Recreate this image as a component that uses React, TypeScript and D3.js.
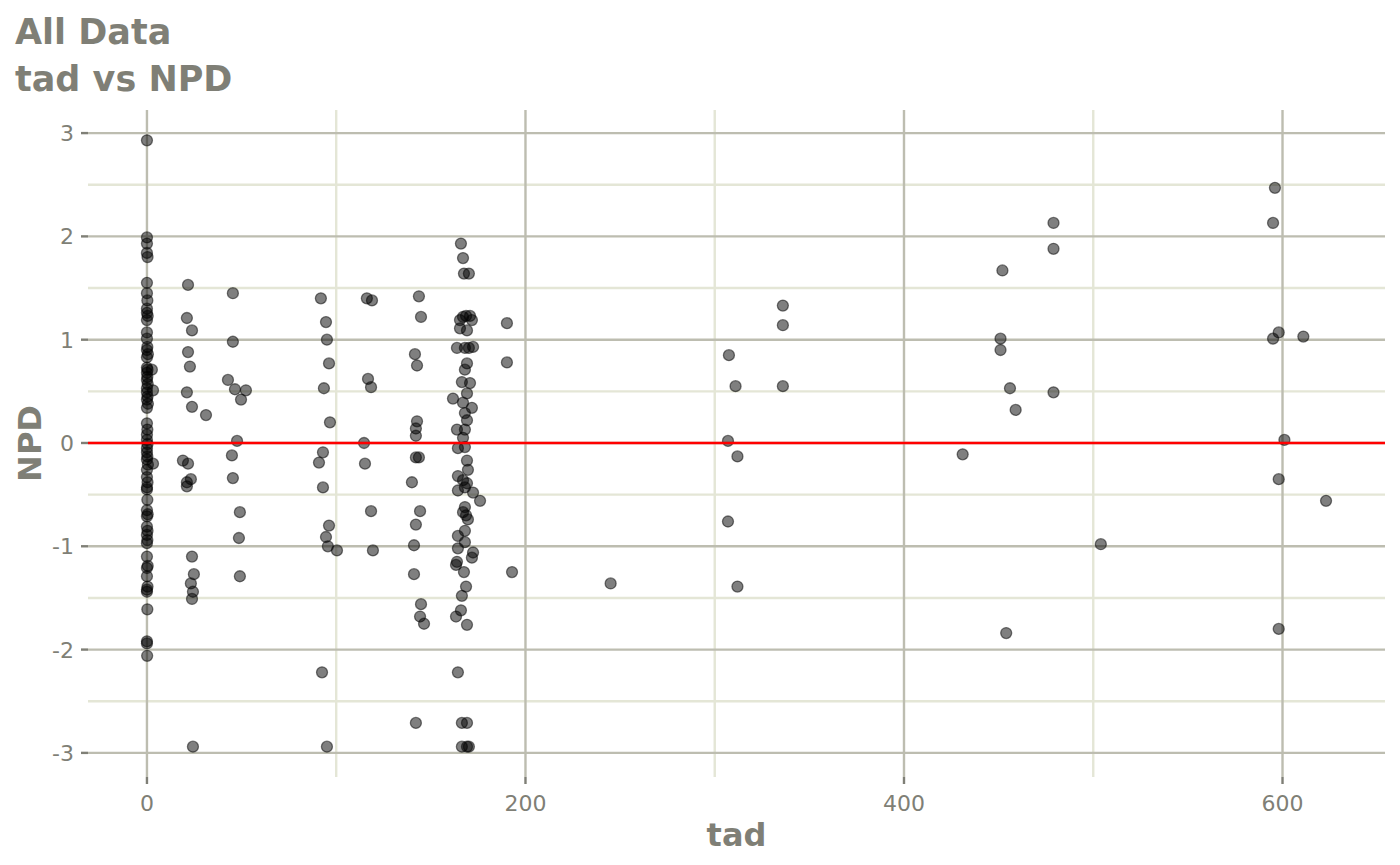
import * as d3 from 'd3'

// NPD residuals against time after dose, grouped by dosing interval
const tad0 = [
  0, 0, 0, 0, 0.3, 0, 0, 0.2, 0, 0, 0.4, 0, 0, 0, 0.2, 0, 0.5, 0, 0, 0.3, 0, 0.2, 0, 0.4, 0, 0, 0.3, 0, 0.5, 0, 0, 0.2,
  0, 0, 0.3, 0, 0, 0.2, 0, 0.5, 0, 0, 0.3, 0, 0, 0.2, 0, 0.4, 0, 0, 0.3, 0, 0.2, 0, 0, 0.4, 0, 0, 0.3, 0, 0, 0.2, 0, 0,
  0.1, 2.6, 3.2, 3.2,
]
const npd0 = [
  2.93, 1.99, 1.93, 1.84, 1.8, 1.55, 1.45, 1.38, 1.3, 1.26, 1.23, 1.19, 1.07, 1.01, 0.93, 0.9, 0.86, 0.83, 0.73, 0.71,
  0.68, 0.64, 0.61, 0.57, 0.53, 0.49, 0.45, 0.42, 0.38, 0.34, 0.19, 0.13, 0.08, 0.03, -0.01, -0.05, -0.09, -0.13, -0.16,
  -0.21, -0.26, -0.33, -0.38, -0.43, -0.45, -0.55, -0.65, -0.69, -0.71, -0.81, -0.85, -0.89, -0.94, -0.97, -1.1, -1.19,
  -1.21, -1.29, -1.39, -1.42, -1.44, -1.61, -1.92, -1.94, -2.06, 0.71, 0.51, -0.2,
]

const tad24 = [21.7, 21.1, 23.8, 21.7, 22.7, 21.1, 23.8, 31.2, 19.0, 21.7, 21.1, 23.2, 21.1, 23.8, 24.8, 23.2, 24.3, 23.8, 24.3, 45.4, 45.4, 42.8, 46.5, 52.3, 49.7, 47.6, 44.9, 45.4, 49.1, 48.6, 49.1]
const npd24 = [1.53, 1.21, 1.09, 0.88, 0.74, 0.49, 0.35, 0.27, -0.17, -0.2, -0.38, -0.35, -0.42, -1.1, -1.27, -1.36, -1.44, -1.51, -2.94, 1.45, 0.98, 0.61, 0.52, 0.51, 0.42, 0.02, -0.12, -0.34, -0.67, -0.92, -1.29]

const tad96 = [91.9, 94.6, 95.1, 96.2, 93.5, 96.7, 93.0, 90.9, 93.0, 96.2, 94.6, 95.6, 100.4, 92.5, 95.1, 116.2, 118.9, 116.8, 118.4, 114.7, 115.2, 118.4, 119.4]
const npd96 = [1.4, 1.17, 1.0, 0.77, 0.53, 0.2, -0.09, -0.19, -0.43, -0.8, -0.91, -1.0, -1.04, -2.22, -2.94, 1.4, 1.38, 0.62, 0.54, 0.0, -0.2, -0.66, -1.04]

const tad144 = [143.7, 144.8, 141.6, 142.7, 142.7, 142.1, 142.1, 142.1, 143.7, 140.0, 144.3, 142.1, 141.1, 141.1, 144.8, 144.3, 146.4, 142.1]
const npd144 = [1.42, 1.22, 0.86, 0.75, 0.21, 0.14, 0.07, -0.14, -0.14, -0.38, -0.66, -0.79, -0.99, -1.27, -1.56, -1.68, -1.75, -2.71]

const tad168 = [165.9, 167.0, 167.5, 170.1, 167.0, 165.4, 168.6, 170.7, 171.7, 165.4, 169.1, 163.8, 168.0, 170.1, 172.3, 169.1, 168.0, 166.4, 170.7, 169.1, 161.7, 167.0, 171.7, 168.0, 169.1, 163.8, 168.0, 167.0, 164.3, 168.0, 169.1, 169.6, 164.3, 167.0, 169.1, 168.0, 164.3, 172.3, 176.0, 168.0, 167.0, 168.6, 169.6, 168.0, 164.3, 168.0, 164.3, 172.3, 171.7, 163.8, 163.3, 167.5, 168.6, 166.4, 165.9, 163.3, 169.1, 164.3, 166.4, 169.1, 166.4, 169.1, 170.1, 190.2, 190.2, 192.9]
const npd168 = [1.93, 1.79, 1.64, 1.64, 1.22, 1.19, 1.23, 1.23, 1.19, 1.11, 1.09, 0.92, 0.92, 0.92, 0.93, 0.77, 0.71, 0.59, 0.58, 0.48, 0.43, 0.39, 0.34, 0.29, 0.22, 0.13, 0.13, 0.05, -0.05, -0.04, -0.17, -0.26, -0.32, -0.36, -0.39, -0.43, -0.46, -0.48, -0.56, -0.62, -0.67, -0.7, -0.74, -0.85, -0.9, -0.96, -1.02, -1.06, -1.11, -1.15, -1.18, -1.25, -1.39, -1.48, -1.62, -1.68, -1.76, -2.22, -2.71, -2.71, -2.94, -2.94, -2.94, 1.16, 0.78, -1.25]

const tadLate = [245, 307.5, 311, 307, 312, 307, 312, 336, 336, 336, 431, 452, 451, 451, 456, 459, 454, 479, 479, 479, 504, 596, 595, 595, 598, 611, 601, 598, 623, 598]
const npdLate = [-1.36, 0.85, 0.55, 0.02, -0.13, -0.76, -1.39, 1.33, 1.14, 0.55, -0.11, 1.67, 1.01, 0.9, 0.53, 0.32, -1.84, 2.13, 1.88, 0.49, -0.98, 2.47, 2.13, 1.01, 1.07, 1.03, 0.03, -0.35, -0.56, -1.8]

const xTicks = [0, 200, 400, 600]
const xMinor = [100, 300, 500]
const yTicks = [-3, -2, -1, 0, 1, 2, 3]
const yMinor = [-2.5, -1.5, -0.5, 0.5, 1.5, 2.5]

const groups = [
  [tad0, npd0],
  [tad24, npd24],
  [tad96, npd96],
  [tad144, npd144],
  [tad168, npd168],
  [tadLate, npdLate],
]

const points = groups.flatMap(([t, n]) => t.map((v, i) => ({ tad: v, npd: n[i] })))

export default function App() {
  const width = 1400
  const height = 865
  const left = 88
  const right = 1385
  const top = 110
  const bottom = 777

  const tadExt = d3.extent(points, (d) => d.tad) as [number, number]
  const npdExt = d3.extent(points, (d) => d.npd) as [number, number]
  const xPad = (tadExt[1] - tadExt[0]) * 0.05
  const yPad = (npdExt[1] - npdExt[0]) * 0.05

  const x = d3.scaleLinear().domain([tadExt[0] - xPad, tadExt[1] + xPad]).range([left, right])
  const y = d3.scaleLinear().domain([npdExt[0] - yPad, npdExt[1] + yPad]).range([bottom, top])

  const gray = '#7f7f76'
  const major = '#bdbdb0'
  const minor = '#e4e6d6'
  const font = 'DejaVu Sans, sans-serif'

  return (
    <svg
      width={width}
      height={height}
      style={{ position: 'absolute', left: 0, top: 0, background: '#fff' }}
      fontFamily={font}
    >
      {/* minor grid */}
      {yMinor.map((v) => (
        <line key={'ym' + v} x1={left} x2={right} y1={y(v)} y2={y(v)} stroke={minor} strokeWidth={2.4} />
      ))}
      {xMinor.map((v) => (
        <line key={'xm' + v} x1={x(v)} x2={x(v)} y1={top} y2={bottom} stroke={minor} strokeWidth={2.4} />
      ))}
      {/* major grid */}
      {yTicks.map((v) => (
        <line key={'y' + v} x1={left} x2={right} y1={y(v)} y2={y(v)} stroke={major} strokeWidth={2.4} />
      ))}
      {xTicks.map((v) => (
        <line key={'x' + v} x1={x(v)} x2={x(v)} y1={top} y2={bottom} stroke={major} strokeWidth={2.4} />
      ))}

      {/* points */}
      {points.map((d, i) => (
        <circle
          key={i}
          cx={x(d.tad)}
          cy={y(d.npd)}
          r={5.5}
          fill="#000"
          fillOpacity={0.5}
          stroke="#000"
          strokeOpacity={0.5}
          strokeWidth={1.3}
        />
      ))}

      {/* reference line at 0 */}
      <line x1={left} x2={right} y1={y(0)} y2={y(0)} stroke="#ff0000" strokeWidth={2.4} />

      {/* axes ticks and labels */}
      {yTicks.map((v) => (
        <g key={'yt' + v}>
          <line x1={left - 7} x2={left} y1={y(v)} y2={y(v)} stroke={gray} strokeWidth={2.4} />
          <text x={left - 14} y={y(v)} dy="0.36em" textAnchor="end" fontSize={22} fill={gray}>
            {v}
          </text>
        </g>
      ))}
      {xTicks.map((v) => (
        <g key={'xt' + v}>
          <line x1={x(v)} x2={x(v)} y1={bottom} y2={bottom + 7} stroke={gray} strokeWidth={2.4} />
          <text x={x(v)} y={bottom + 34} textAnchor="middle" fontSize={22} fill={gray}>
            {v}
          </text>
        </g>
      ))}

      {/* titles */}
      <text x={15} y={44} fontSize={35} fontWeight="bold" fill={gray}>
        All Data
      </text>
      <text x={15} y={91} fontSize={35} fontWeight="bold" fill={gray}>
        tad vs NPD
      </text>
      <text x={(left + right) / 2} y={846} textAnchor="middle" fontSize={32} fontWeight="bold" fill={gray}>
        tad
      </text>
      <text
        transform={`translate(41,${(top + bottom) / 2}) rotate(-90)`}
        textAnchor="middle"
        fontSize={32}
        fontWeight="bold"
        fill={gray}
      >
        NPD
      </text>
    </svg>
  )
}
